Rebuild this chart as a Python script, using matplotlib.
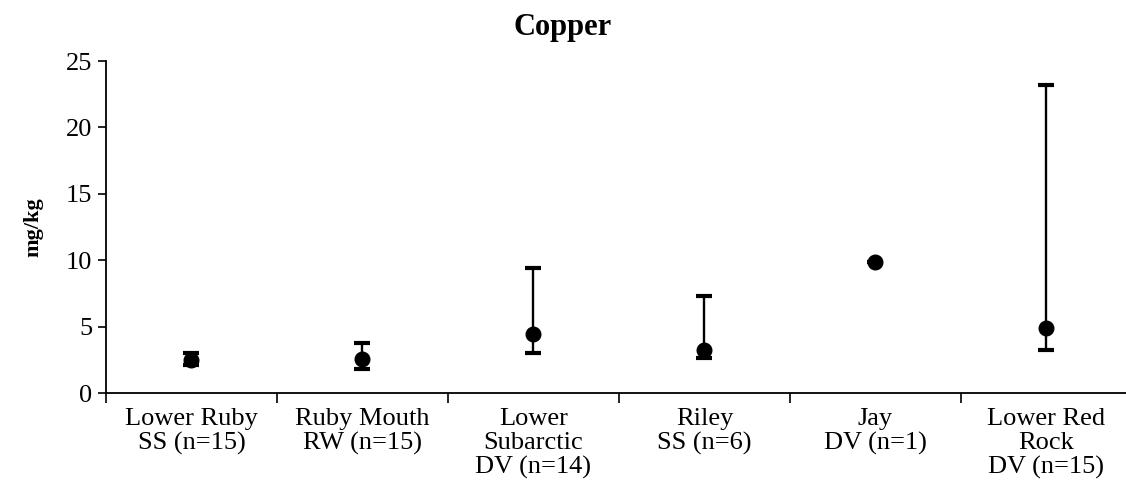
import matplotlib
matplotlib.use("Agg")
import matplotlib.pyplot as plt
import numpy as np

categories = ["Lower Ruby\nSS (n=15)", "Ruby Mouth\nRW (n=15)", "Lower\nSubarctic\nDV (n=14)",
              "Riley\nSS (n=6)", "Jay\nDV (n=1)", "Lower Red\nRock\nDV (n=15)"]
means = [2.45, 2.55, 4.44, 3.24, 9.86, 4.87]
lows = [2.1, 1.81, 2.99, 2.61, 9.86, 3.24]
highs = [3.0, 3.79, 9.39, 7.33, 9.86, 23.2]

plt.rcParams['font.family'] = ['Liberation Serif', 'DejaVu Serif']

fig = plt.figure(figsize=(11.26, 4.92), dpi=100)
ax = fig.add_axes([106/1126, 99/492, (1132-106)/1126, (393-61)/492])

x = np.arange(len(categories))
m = np.array(means); lo = np.array(lows); hi = np.array(highs)
yerr = np.vstack([m - lo, hi - m])
ax.errorbar(x, m, yerr=yerr, fmt='o', color='black', markersize=10.5,
            elinewidth=1.7, capsize=6, capthick=3)

ax.set_xlim(-0.5, len(categories) - 0.5)
ax.set_ylim(0, 25)
ax.set_yticks([0, 5, 10, 15, 20, 25])
ax.tick_params(axis='y', labelsize=19, length=6, width=1.2, direction='out', pad=4)
ax.set_xticks(x)
ax.set_xticklabels(categories, fontsize=19, linespacing=1.1)
ax.tick_params(axis='x', which='major', length=0, pad=11)
ax.set_xticks(np.arange(-0.5, len(categories)), minor=True)
ax.tick_params(axis='x', which='minor', length=7, width=1.2, direction='out')

for s in ['top', 'right']:
    ax.spines[s].set_visible(False)
for s in ['left', 'bottom']:
    ax.spines[s].set_linewidth(1.3)

ax.set_ylabel("mg/kg", fontsize=16, fontweight='bold', labelpad=16)
fig.text(0.5, 1 - 27/492, "Copper", ha='center', va='center', fontsize=22, fontweight='bold')

fig.savefig("out.png", dpi=100)
